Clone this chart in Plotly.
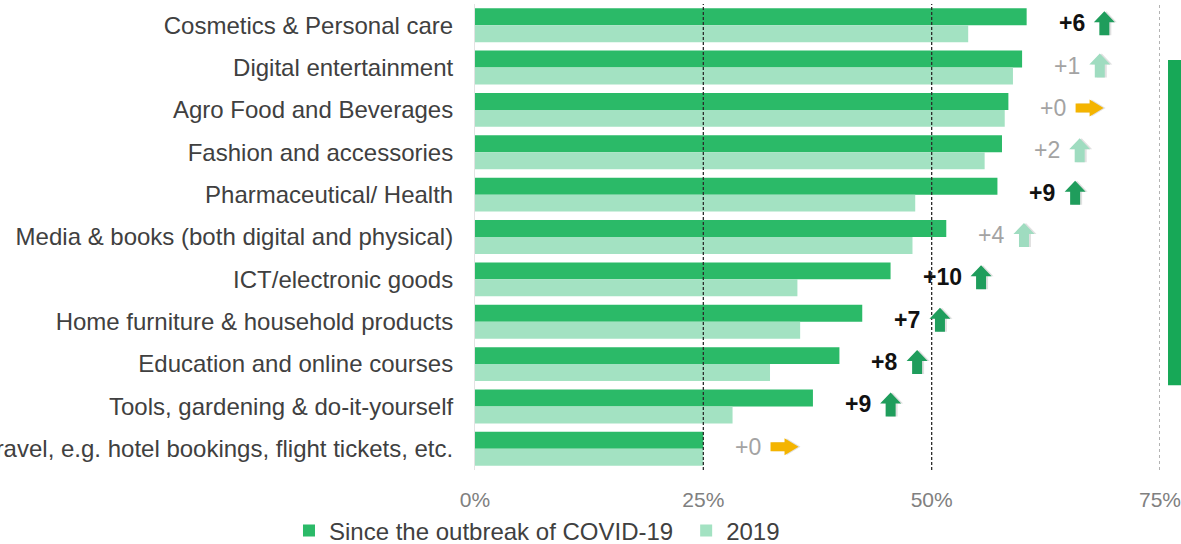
import plotly.graph_objects as go

# ---------------- data ----------------
CATEGORIES = [
    "Cosmetics & Personal care",
    "Digital entertainment",
    "Agro Food and Beverages",
    "Fashion and accessories",
    "Pharmaceutical/ Health",
    "Media & books (both digital and physical)",
    "ICT/electronic goods",
    "Home furniture & household products",
    "Education and online courses",
    "Tools, gardening & do-it-yourself",
    "Travel, e.g. hotel bookings, flight tickets, etc.",
]
SINCE_COVID = [60.4, 59.9, 58.4, 57.7, 57.2, 51.6, 45.5, 42.4, 39.9, 37.0, 25.0]
YEAR_2019 = [54.0, 58.9, 58.0, 55.8, 48.2, 47.9, 35.3, 35.6, 32.3, 28.2, 25.0]
CHANGE = [6, 1, 0, 2, 9, 4, 10, 7, 8, 9, 0]
SIGNIFICANT = [True, False, False, False, True, False, True, True, True, True, False]
X_TICKS = [0, 25, 50, 75]
X_TICK_TEXT = ["0%", "25%", "50%", "75%"]
GRID_LINES = [25, 50, 75]
SERIES_NAMES = ["Since the outbreak of COVID-19", "2019"]

# ---------------- style ----------------
FONT = "Liberation Sans, Arial, sans-serif"
DARK = "#2bba68"
LIGHT = "#a3e2c2"
ARROW_DARK = "#1f9d5c"
ARROW_LIGHT = "#9fdcc0"
ARROW_FLAT = "#f4b400"
LABEL_SIZE = 23

ypos = list(range(len(CATEGORIES)))

fig = go.Figure()
fig.add_bar(y=ypos, x=SINCE_COVID, orientation="h", name=SERIES_NAMES[0],
            marker=dict(color=DARK, line=dict(width=0)), legend="legend")
fig.add_bar(y=ypos, x=YEAR_2019, orientation="h", name=SERIES_NAMES[1],
            marker=dict(color=LIGHT, line=dict(width=0)), legend="legend2")

# vertical reference lines
for g in GRID_LINES:
    last = g == GRID_LINES[-1]
    fig.add_shape(type="line", xref="x", yref="paper", x0=g, x1=g, y0=0, y1=1,
                  line=dict(color="#8a8a8a" if last else "#2b2b2b", width=1.3,
                            dash="dot" if last else "3px,2px"),
                  layer="above")


def up_arrow(dx):
    pts = [(dx, 3), (dx + 10.5, 14), (dx + 21, 3), (dx + 15.5, 3), (dx + 15.5, -10),
           (dx + 5.5, -10), (dx + 5.5, 3)]
    return "M" + " L".join(f"{x:.1f},{y:.1f}" for x, y in pts) + " Z"


def right_arrow(dx):
    pts = [(dx, -2.5), (dx + 14, -2.5), (dx + 14, -6.5), (dx + 28, 2), (dx + 14, 10.5),
           (dx + 14, 6.5), (dx, 6.5)]
    return "M" + " L".join(f"{x:.1f},{y:.1f}" for x, y in pts) + " Z"


for i, (d, l, c, s) in enumerate(zip(SINCE_COVID, YEAR_2019, CHANGE, SIGNIFICANT)):
    anchor = max(d, l)
    label = f"+{c}"
    fig.add_annotation(x=anchor, y=i, xref="x", yref="y", text=f"<b>{label}</b>" if s else label,
                       xanchor="left", yanchor="middle", xshift=30, yshift=2, showarrow=False,
                       font=dict(family=FONT, size=LABEL_SIZE, color="#111111" if s else "#a3a3a3"))
    tw = (0.584 + 0.556 * (len(label) - 1)) * LABEL_SIZE
    dx = 30 + tw + 11
    if c == 0:
        path, col = right_arrow, ARROW_FLAT
    else:
        path, col = up_arrow, (ARROW_DARK if s else ARROW_LIGHT)
    # soft shadow
    fig.add_shape(type="path", xref="x", yref="y", xsizemode="pixel", ysizemode="pixel",
                  xanchor=anchor, yanchor=i, path=path(dx + 2), fillcolor="rgba(0,0,0,0.12)",
                  line=dict(width=0), layer="above")
    fig.add_shape(type="path", xref="x", yref="y", xsizemode="pixel", ysizemode="pixel",
                  xanchor=anchor, yanchor=i, path=path(dx), fillcolor=col,
                  line=dict(width=0), layer="above")

# cut-off green box on the right edge
fig.add_shape(type="rect", xref="paper", yref="paper", x0=1.0117, x1=1.2, y0=0.182, y1=0.88,
              fillcolor="#17a857", line=dict(width=0), layer="above")

legend_common = dict(orientation="h", xref="container", yref="container", y=0.024,
                     xanchor="left", yanchor="middle", font=dict(size=24, color="#404040"),
                     bgcolor="rgba(0,0,0,0)")

fig.update_layout(
    width=1181, height=544,
    margin=dict(l=475, r=21, t=4, b=74, autoexpand=False),
    paper_bgcolor="white", plot_bgcolor="white",
    barmode="group", bargap=0.2, bargroupgap=0,
    font=dict(family=FONT, color="#404040"),
    showlegend=True,
    legend=dict(x=0.2447, **legend_common),
    legend2=dict(x=0.581, **legend_common),
    xaxis=dict(range=[0, 75], tickvals=X_TICKS, ticktext=X_TICK_TEXT, showgrid=False,
               zeroline=False, showline=False, ticks="", ticklabelstandoff=15,
               ticklabeloverflow="allow", automargin=False,
               tickfont=dict(family=FONT, size=21, color="#808080")),
    yaxis=dict(range=[len(CATEGORIES) - 0.5, -0.5], tickvals=ypos, ticktext=CATEGORIES,
               showgrid=False, zeroline=False, showline=True, linecolor="#e3e3e3", linewidth=1,
               ticks="", ticklabelstandoff=16, automargin=False, ticklabeloverflow="allow",
               tickfont=dict(family=FONT, size=24, color="#404040")),
)

fig.write_html("out.html")
